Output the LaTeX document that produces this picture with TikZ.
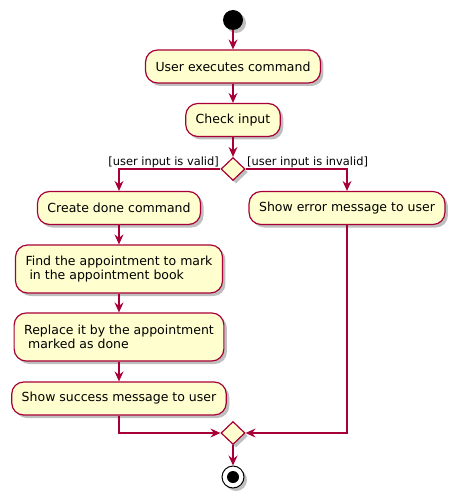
\documentclass[tikz,border=0pt]{standalone}
\usepackage{fontspec}
\setmainfont{DejaVu Sans}
\usetikzlibrary{shapes,arrows.meta,shadows}
\definecolor{umlred}{HTML}{A80036}
\definecolor{umlfill}{HTML}{FEFECE}
\tikzstyle{activity} = [draw=umlred, fill=umlfill, rectangle, rounded corners=12pt, line width=1.2pt, align=left, inner xsep=10pt, inner ysep=0pt, minimum height=33pt, font=\fontsize{12.5}{14}\selectfont, drop shadow={shadow xshift=3pt, shadow yshift=-3pt, opacity=0.25, fill=black}]
\tikzstyle{twoline} = [minimum height=48pt]
\tikzstyle{decision} = [draw=umlred, fill=umlfill, diamond, line width=1.2pt, minimum width=24pt, minimum height=23pt, inner sep=0pt, drop shadow={shadow xshift=3pt, shadow yshift=-3pt, opacity=0.25, fill=black}]
\tikzstyle{initial} = [circle, fill=black, minimum size=20pt, inner sep=0pt, drop shadow={shadow xshift=3pt, shadow yshift=-3pt, opacity=0.25, fill=black}]
\tikzstyle{final} = [circle, draw=black, fill=white, line width=1pt, minimum size=22pt, inner sep=0pt, path picture={\fill[black] (path picture bounding box.center) circle (6pt);}, drop shadow={shadow xshift=3pt, shadow yshift=-3pt, opacity=0.25, fill=black}]
\tikzstyle{line} = [draw=umlred, line width=1.2pt, -{Stealth[length=10pt, width=9pt, inset=3.5pt]}]
\tikzstyle{guard} = [font=\fontsize{11.4}{13}\selectfont, inner sep=1pt]

\begin{document}
\begin{tikzpicture}
    \useasboundingbox (0,0) rectangle (456pt,-497pt);
    \node [initial] (start) at (233pt,-20pt) {};
    \node [activity, below of=start, node distance=46.5pt] (exec) {User executes command};
    \node [activity, below of=exec, node distance=53.5pt] (check) {Check input};
    \node [decision, below of=check, node distance=49pt] (valid) {};
    \node [activity, below of=valid, xshift=-114pt, node distance=39pt] (done) {Create done command};
    \node [activity, below of=valid, xshift=114pt, node distance=39pt] (error) {Show error message to user};
    \node [activity, twoline, below of=done, node distance=61pt] (find) {Find the appointment to mark\\\ in the appointment book};
    \node [activity, twoline, below of=find, node distance=68pt] (replace) {Replace it by the appointment\\\ marked as done};
    \node [activity, below of=replace, node distance=61.5pt] (success) {Show success message to user};
    \node [decision, below of=valid, node distance=264pt] (merge) {};
    \node [final, below of=merge, node distance=44pt] (stop) {};

    \path [line] (start) -- (exec);
    \path [line] (exec) -- (check);
    \path [line] (check) -- (valid);
    \path [line] (valid.west) -| node[guard, pos=0, anchor=south east]{[user input is valid]} (done);
    \path [line] (valid.east) -| node[guard, pos=0, anchor=south west]{[user input is invalid]} (error);
    \path [line] (done) -- (find);
    \path [line] (find) -- (replace);
    \path [line] (replace) -- (success);
    \path [line] (success) |- (merge);
    \path [line] (error) |- (merge);
    \path [line] (merge) -- (stop);
\end{tikzpicture}
\end{document}
